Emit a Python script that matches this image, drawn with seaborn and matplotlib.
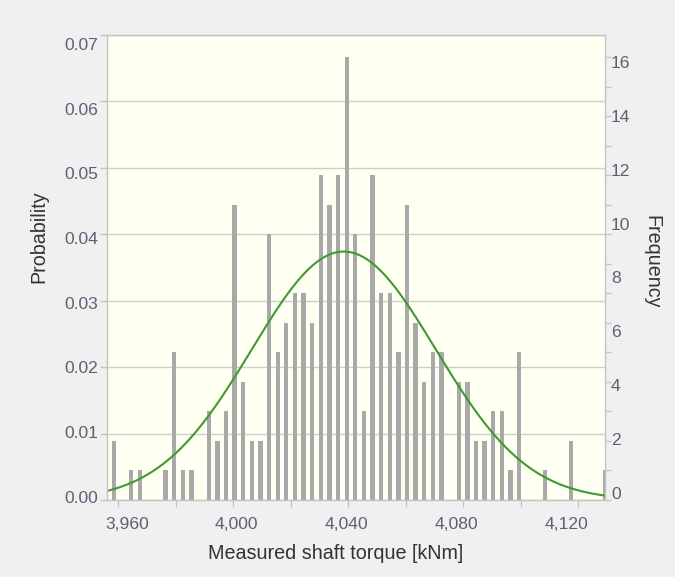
import numpy as np
import pandas as pd
import matplotlib
matplotlib.use('Agg')
import matplotlib.pyplot as plt
from matplotlib.ticker import StrMethodFormatter, NullFormatter, FixedLocator
import seaborn as sns

# histogram of measured shaft torque, 3 kNm bins starting at 3957
bin_start = 3957
bin_width = 3
counts = [2, 0, 1, 1, 0, 0, 1, 5, 1, 1, 0, 3, 2, 3, 10, 4, 2, 2, 9, 5,
          6, 7, 7, 6, 11, 10, 11, 15, 9, 3, 11, 7, 7, 5, 10, 6, 4, 5, 5, 0,
          4, 4, 2, 2, 3, 3, 1, 5, 0, 0, 1, 0, 0, 2, 0, 0, 0, 1]
# fitted normal curve
fit_mean = 4038.5
fit_sd = 32.0

x_ticks = [3960, 4000, 4040, 4080, 4120]
prob_ticks = [0.0, 0.01, 0.02, 0.03, 0.04, 0.05, 0.06, 0.07]
freq_ticks = [0, 2, 4, 6, 8, 10, 12, 14, 16]

edges = [bin_start + bin_width * i for i in range(len(counts) + 1)]
df = pd.DataFrame({'torque': [e + bin_width / 2 for e in edges[:-1]], 'count': counts})
n_total = sum(counts)

sns.set_style('white')
plt.rcParams['font.family'] = ['Liberation Sans', 'DejaVu Sans']

tick_col = '#5b6172'
line_col = '#c4c4c4'
label_col = '#333333'

fig = plt.figure(figsize=(6.75, 5.77), dpi=100, facecolor='#f0f0f0')
ax = fig.add_axes([107 / 675, 77 / 577, 498 / 675, 465 / 577])
ax.set_facecolor('#fffff2')

sns.histplot(data=df, x='torque', weights='count', bins=edges, stat='probability',
             shrink=0.5, color='#a9a9a9', alpha=1, linewidth=0, ax=ax)

xs = np.linspace(3950, 4135, 400)
ys = bin_width * np.exp(-0.5 * ((xs - fit_mean) / fit_sd) ** 2) / (fit_sd * np.sqrt(2 * np.pi))
sns.lineplot(x=xs, y=ys, color='#3e9a31', linewidth=1.5, ax=ax)

ax.set_xlim(3956.1, 4129.4)
ax.set_ylim(0, 0.07)
ax.set_yticks(prob_ticks)
ax.yaxis.set_major_formatter(NullFormatter())
ax.set_xticks(range(3960, 4121, 20))
ax.xaxis.set_major_formatter(NullFormatter())
ax.grid(axis='y', color='#cdcdcd', linewidth=1)
ax.grid(axis='x', visible=False)
ax.set_axisbelow(True)
ax.tick_params(axis='both', which='major', length=5, width=1, color=line_col, left=True, bottom=True)
for s in ax.spines.values():
    s.set_color(line_col)
    s.set_linewidth(1)

ax.set_ylabel('Probability', fontsize=14.2, color=label_col)
ax.yaxis.set_label_coords(-0.118, 0.566)
ax.set_xlabel('Measured shaft torque [kNm]', fontsize=14.2, color=label_col)
ax.xaxis.set_label_coords(0.46, -0.095)
ax.text(1.094, 0.512, 'Frequency', fontsize=14.2, color=label_col, rotation=-90,
        ha='center', va='center', transform=ax.transAxes)

# tick labels drawn on their own scales, as in the source chart
def hide_spines(a):
    for s in a.spines.values():
        s.set_visible(False)

lab_left = ax.secondary_yaxis('left', functions=(lambda v: (v - 0.0005) * 1.0272,
                                                  lambda L: L / 1.0272 + 0.0005))
lab_left.set_yticks(prob_ticks)
lab_left.yaxis.set_major_formatter(StrMethodFormatter('{x:.2f}'))
lab_left.tick_params(length=0, pad=6.3, labelsize=12.6, labelcolor=tick_col)
hide_spines(lab_left)

freq_marks = ax.secondary_yaxis('right', functions=(lambda v: v * n_total, lambda c: c / n_total))
freq_marks.yaxis.set_major_locator(FixedLocator(range(0, 16)))
freq_marks.yaxis.set_major_formatter(NullFormatter())
freq_marks.tick_params(length=4, width=1, color=line_col)
hide_spines(freq_marks)

lab_right = ax.secondary_yaxis('right', functions=(lambda v: (v - 0.001054) * 246.5,
                                                    lambda r: r / 246.5 + 0.001054))
lab_right.set_yticks(freq_ticks)
lab_right.tick_params(length=0, pad=4.3, labelsize=12.6, labelcolor=tick_col)
hide_spines(lab_right)

lab_bottom = ax.secondary_xaxis('bottom', functions=(lambda u: 3960 + (u - 3963.0) * 1.0447,
                                                      lambda L: 3963.0 + (L - 3960) / 1.0447))
lab_bottom.set_xticks(x_ticks)
lab_bottom.xaxis.set_major_formatter(StrMethodFormatter('{x:,.0f}'))
lab_bottom.tick_params(length=0, pad=12, labelsize=12.6, labelcolor=tick_col)
hide_spines(lab_bottom)

fig.savefig('out.png', dpi=100, facecolor=fig.get_facecolor())
